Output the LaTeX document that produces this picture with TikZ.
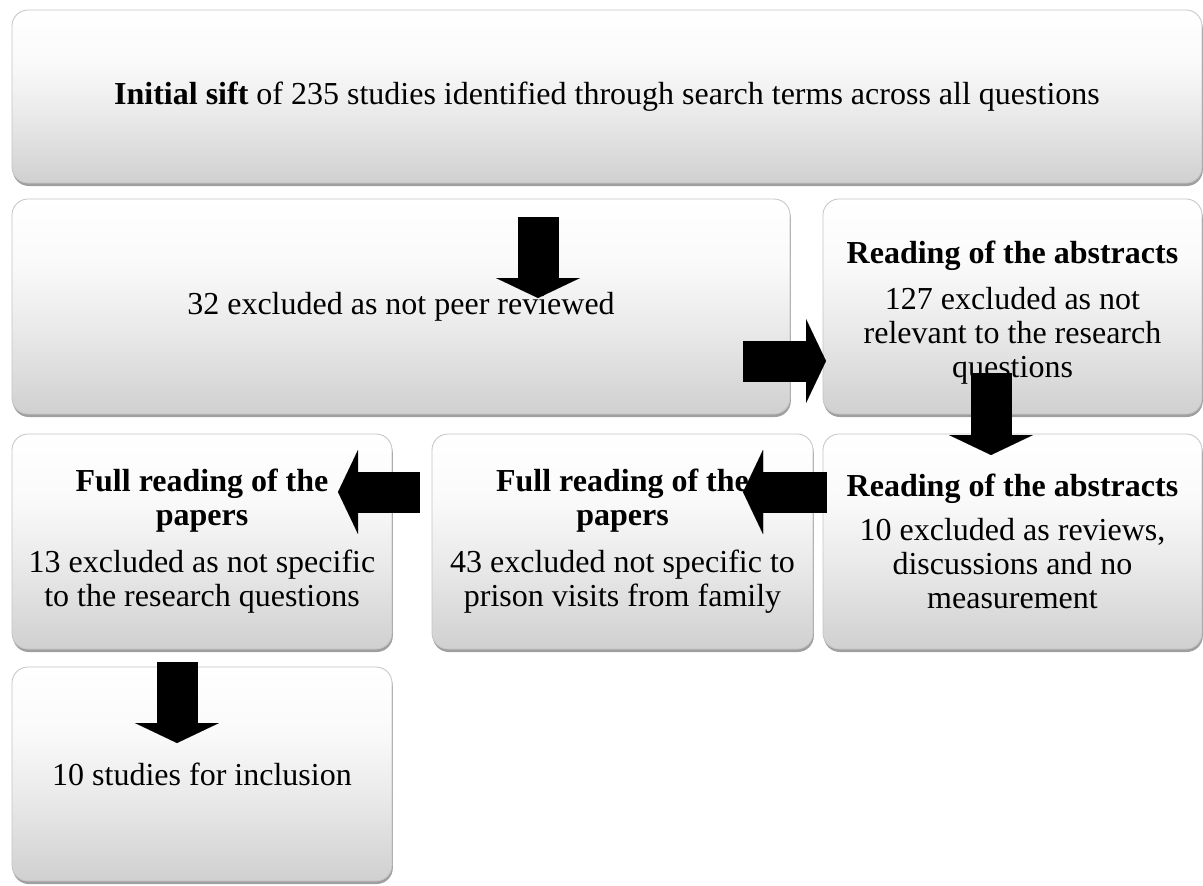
\documentclass[tikz,border=0pt]{standalone}
\usepackage{fontspec}
\setmainfont{Liberation Serif}
\usetikzlibrary{shadows,arrows.meta}
\definecolor{boxbot}{HTML}{D0D0D0}
\definecolor{boxmid}{HTML}{EAEAEA}
\definecolor{boxhi}{HTML}{FAFAFA}
\definecolor{boxedge}{HTML}{C4C4C4}
\pgfdeclareverticalshading{boxshade}{100bp}{color(0bp)=(boxbot); color(25bp)=(boxbot); color(45bp)=(boxmid); color(60bp)=(boxhi); color(75bp)=(white); color(100bp)=(white)}
\begin{document}
\begin{tikzpicture}[x=1pt,y=-1pt,
  box/.style={rounded corners=16pt, draw=boxedge, line width=0.8pt, shade, shading=boxshade,
    drop shadow={shadow xshift=0.8pt, shadow yshift=-3pt, opacity=0.5, fill=black!75},
    inner sep=0pt, outer sep=0pt, align=center, font=\fontsize{32}{34}\selectfont},
  blk/.style={line width=41pt, black, -{Triangle[width=84pt,length=20pt,line width=0.01pt]}}]
\useasboundingbox (0,0) rectangle (1203,886);

\node[box, minimum width=1190pt, minimum height=173pt] (init) at (607,96.5)
  {\textbf{Initial sift} of 235 studies identified through search terms across all questions};
\node[box, minimum width=778pt, minimum height=215pt] (peer) at (401,306.5)
  {32 excluded as not peer reviewed};
\node[box, minimum width=379pt, minimum height=215pt] (abs1) at (1012.5,306.5)
  {\mbox{}\\[0pt]\textbf{Reading of the abstracts}\\[12pt]127 excluded as not\\relevant to the research\\questions};
\node[box, minimum width=379pt, minimum height=215pt] (abs2) at (1012.5,541.5)
  {\textbf{Reading of the abstracts}\\[10pt]10 excluded as reviews,\\discussions and no\\measurement};
\node[box, minimum width=381pt, minimum height=215pt] (full1) at (622.5,541.5)
  {\textbf{Full reading of the}\\\textbf{papers}\\[13pt]43 excluded not specific to\\prison visits from family};
\node[box, minimum width=380pt, minimum height=215pt] (full2) at (202,541.5)
  {\textbf{Full reading of the}\\\textbf{papers}\\[13pt]13 excluded as not specific\\to the research questions};
\node[box, minimum width=380pt, minimum height=214pt] (incl) at (202,774)
  {10 studies for inclusion};

\coordinate (a1s) at (538,217);  \coordinate (a1e) at (538,298);
\coordinate (a2s) at (743,361);  \coordinate (a2e) at (826,361);
\coordinate (a3s) at (991,373);  \coordinate (a3e) at (991,455);
\coordinate (a4s) at (827,492);  \coordinate (a4e) at (743,492);
\coordinate (a5s) at (420,492);  \coordinate (a5e) at (338,492);
\coordinate (a6s) at (177,662);  \coordinate (a6e) at (177,743);

\draw[blk] (a1s) -- (a1e);
\draw[blk] (a2s) -- (a2e);
\draw[blk] (a3s) -- (a3e);
\draw[blk] (a4s) -- (a4e);
\draw[blk] (a5s) -- (a5e);
\draw[blk] (a6s) -- (a6e);
\end{tikzpicture}
\end{document}
